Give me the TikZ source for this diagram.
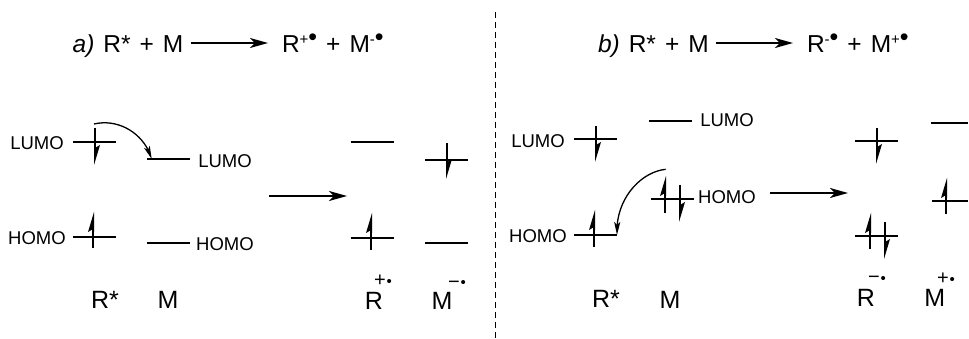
\documentclass[tikz,border=0pt]{standalone}
\usepackage{fontspec}
\setmainfont{Liberation Sans}
\usetikzlibrary{arrows.meta,bending}
\tikzset{
  every node/.style={inner sep=0pt,outer sep=0pt},
  orbital/.style={line width=1.6pt,line cap=butt},
  spinline/.style={line width=1.5pt},
  orblabel/.style={font=\fontsize{18.5}{19}\selectfont},
  species/.style={font=\fontsize{25}{26}\selectfont},
  eqn/.style={font={\fontsize{24.5}{26}\selectfont\spaceskip 9pt\relax},anchor=base west},
  charge/.style={font=\fontsize{20}{20}\selectfont},
  rxn/.style={line width=1.6pt,-{Stealth[length=18pt,width=10pt,inset=5pt]}},
  transfer/.style={line width=1.3pt,-{Stealth[length=13pt,width=6pt,inset=3pt,flex]}},
  divider/.style={line width=1pt,dash pattern=on 6pt off 4pt}
}
\newcommand{\orb}[4]{%
  \coordinate (#1-l) at (#2,#4);\coordinate (#1-r) at (#3,#4);
  \draw[orbital] (#1-l) -- (#1-r);}
\newcommand{\spinup}[3]{% x, bottom, tip
  \draw[spinline] (#1,#2) -- (#1,#3+10);
  \fill (#1+1,#3) -- (#1-5,#3+20) -- (#1,#3+17) -- (#1+1,#3+20) -- cycle;}
\newcommand{\spindown}[3]{% x, top, tip
  \draw[spinline] (#1,#2) -- (#1,#3-10);
  \fill (#1-1,#3) -- (#1+5,#3-20) -- (#1,#3-17) -- (#1-1,#3-20) -- cycle;}
\newcommand{\radcharge}[4]{\node[charge] (#1) at (#2,#3) {#4\hspace{1pt}\raisebox{0.5pt}{\fontsize{15}{15}\selectfont •}};}
\newcommand{\supr}[1]{\raisebox{8pt}{\fontsize{15}{16}\selectfont #1\raisebox{-1pt}{\fontsize{25}{25}\selectfont •}}}
\begin{document}
\begin{tikzpicture}[x=1pt,y=-1pt]
\useasboundingbox (0,0) rectangle (969,339);
\fill[white] (0,0) rectangle (969,339);
% divider
\coordinate (divtop) at (495,12);
\coordinate (divbot) at (495,339);
\draw[divider] (divtop) -- (divbot);
% titles
\node[eqn] (ta) at (72.7,53) {\textit{a)} R* + M};
\coordinate (ta1) at (191,43);\coordinate (ta2) at (268,43);
\draw[rxn] (ta1) -- (ta2);
\node[eqn] (tap) at (282,53) {R\supr{+} + M\supr{-}};
\node[eqn] (tb) at (598,53) {\textit{b)} R* + M};
\coordinate (tb1) at (716,43);\coordinate (tb2) at (793,43);
\draw[rxn] (tb1) -- (tb2);
\node[eqn] (tbp) at (807,53) {R\supr{-} + M\supr{+}};
% panel a, reactants
\orb{aRL}{73}{116}{142} \spindown{95}{128}{165}
\orb{aML}{147}{190}{159}
\orb{aRH}{73}{116}{237} \spinup{93}{248}{212}
\orb{aMH}{147}{190}{243}
\node[orblabel] (la1) at (37,142.7) {LUMO};
\node[orblabel] (la2) at (37,238) {HOMO};
\node[orblabel] (la3) at (225,160.7) {LUMO};
\node[orblabel] (la4) at (225,244) {HOMO};
\node[species] (saR) at (105,300) {R*};
\node[species] (saM) at (168,300) {M};
\coordinate (acs) at (94,124);
\coordinate (ace) at (151.7,159);
\draw[transfer] (acs) .. controls (120,118) and (145,135) .. (ace);
% panel a, middle arrow
\coordinate (am1) at (269,196);\coordinate (am2) at (347,196);
\draw[rxn] (am1) -- (am2);
% panel a, products
\orb{apRL}{351}{394}{142}
\orb{apRH}{351}{394}{238} \spinup{371}{250}{213}
\orb{apML}{425}{468}{160} \spindown{447}{143}{179}
\orb{apMH}{425}{468}{243}
\node[species] (sapR) at (374,300.7) {R};
\radcharge{capR}{383}{281}{+}
\node[species] (sapM) at (442,301) {M};
\radcharge{capM}{457}{284.5}{−}
% panel b, reactants
\orb{bRL}{574}{617}{139} \spindown{596}{126}{162}
\orb{bML}{649}{692}{121}
\orb{bRH}{574}{617}{235} \spinup{594}{247}{210}
\orb{bMH}{651}{694}{199} \spinup{665}{213}{176} \spindown{680}{185}{222}
\node[orblabel] (lb1) at (538,140.7) {LUMO};
\node[orblabel] (lb2) at (538,235.7) {HOMO};
\node[orblabel] (lb3) at (727,120) {LUMO};
\node[orblabel] (lb4) at (727,197) {HOMO};
\node[species] (sbR) at (606,299) {R*};
\node[species] (sbM) at (670,300) {M};
\coordinate (bcs) at (665.7,169.3);
\draw[transfer] (bcs) .. controls (640,172) and (615,200) .. (bRH-r);
% panel b, middle arrow
\coordinate (bm1) at (770,193);\coordinate (bm2) at (848,193);
\draw[rxn] (bm1) -- (bm2);
% panel b, products
\orb{bpRL}{855}{898}{141} \spindown{877}{128}{164}
\orb{bpML}{931}{968}{123}
\orb{bpRH}{855}{898}{236} \spinup{870}{249}{213} \spindown{885}{222}{259}
\orb{bpMH}{932}{968}{201} \spinup{946}{214}{178}
\node[species] (sbpR) at (866,298) {R};
\radcharge{cbpR}{877}{280}{−}
\node[species] (sbpM) at (934.7,298) {M};
\radcharge{cbpM}{946}{279}{+}
\end{tikzpicture}
\end{document}
